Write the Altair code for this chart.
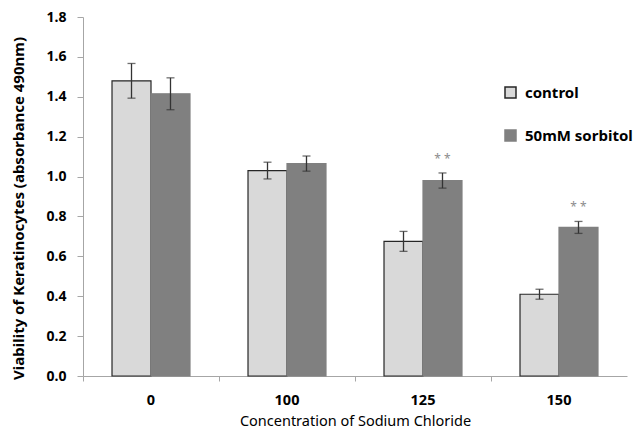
import altair as alt
import pandas as pd

concentrations = ["0", "100", "125", "150"]
series_names = ["control", "50mM sorbitol"]
control_means = [1.48, 1.03, 0.675, 0.41]
control_errs = [0.087, 0.042, 0.05, 0.025]
sorbitol_means = [1.415, 1.065, 0.98, 0.745]
sorbitol_errs = [0.08, 0.038, 0.038, 0.03]
sorbitol_marks = ["", "", "* *", "* *"]
y_ticks = [0, 0.2, 0.4, 0.6, 0.8, 1.0, 1.2, 1.4, 1.6, 1.8]

rows = []
for i, c in enumerate(concentrations):
    rows.append({"conc": c, "series": series_names[0], "mean": control_means[i],
                 "low": control_means[i] - control_errs[i],
                 "high": control_means[i] + control_errs[i], "star": ""})
    rows.append({"conc": c, "series": series_names[1], "mean": sorbitol_means[i],
                 "low": sorbitol_means[i] - sorbitol_errs[i],
                 "high": sorbitol_means[i] + sorbitol_errs[i], "star": sorbitol_marks[i]})
df = pd.DataFrame(rows)

FONT = "Noto Sans"
W, H = 544, 359

x_enc = alt.X("conc:N", sort=concentrations,
              scale=alt.Scale(paddingInner=0, paddingOuter=0),
              axis=alt.Axis(title="Concentration of Sodium Chloride", labelAngle=0,
                            bandPosition=0, tickSize=5,
                            domainColor="#a6a6a6", tickColor="#a6a6a6",
                            labelFont=FONT, labelFontSize=14.5, labelFontWeight="bold",
                            labelColor="#000000", labelPadding=12,
                            titleFont=FONT, titleFontSize=14.5, titleFontWeight="normal",
                            titleColor="#000000", titlePadding=8))
xo_enc = alt.XOffset("series:N", sort=series_names,
                     scale=alt.Scale(paddingInner=0, paddingOuter=0.744))
y_scale = alt.Scale(domain=[0, 1.8], nice=False)

legend_kw = dict(title=None, orient="none", legendX=420, legendY=68,
                 symbolType="square", symbolSize=121,
                 symbolStrokeWidth=1.5, rowPadding=26, padding=0,
                 labelFont=FONT, labelFontSize=15,
                 labelFontWeight="bold", labelColor="#000000",
                 labelOffset=7)

base = alt.Chart(df).encode(x=x_enc, xOffset=xo_enc)

bars = base.mark_bar(strokeWidth=1.2).encode(
    y=alt.Y("mean:Q", scale=y_scale,
            axis=alt.Axis(title="Viability of Keratinocytes (absorbance 490nm)",
                          values=y_ticks, tickCount=len(y_ticks),
                          format=".1f", grid=False, tickSize=6, labelOverlap=False,
                          domainColor="#a6a6a6", tickColor="#a6a6a6",
                          labelFont=FONT, labelFontSize=14, labelFontWeight="bold",
                          labelColor="#000000", labelPadding=11,
                          titleFont=FONT, titleFontSize=15, titleFontWeight="bold",
                          titleColor="#000000", titlePadding=20, titleY=191)),
    fill=alt.Fill("series:N", sort=series_names,
                  scale=alt.Scale(domain=series_names, range=["#d9d9d9", "#808080"]),
                  legend=alt.Legend(**legend_kw)),
    stroke=alt.Stroke("series:N", sort=series_names,
                      scale=alt.Scale(domain=series_names, range=["#262626", "#808080"]),
                      legend=alt.Legend(**legend_kw)),
)

rules = base.mark_rule(color="#333333", strokeWidth=1.3).encode(
    y=alt.Y("low:Q", scale=y_scale), y2="high:Q")
caps_low = base.mark_tick(color="#333333", thickness=1.3, size=8, orient="horizontal").encode(
    y=alt.Y("low:Q", scale=y_scale))
caps_high = base.mark_tick(color="#333333", thickness=1.3, size=8, orient="horizontal").encode(
    y=alt.Y("high:Q", scale=y_scale))
stars = base.mark_text(dy=-14, color="#8c8c8c", fontSize=12, font=FONT).encode(
    y=alt.Y("high:Q", scale=y_scale), text="star:N")

chart = alt.layer(bars, rules, caps_low, caps_high, stars).properties(
    width=W, height=H,
    autosize=alt.AutoSizeParams(type="none"),
    padding={"left": 75, "top": 9, "right": 6, "bottom": 53},
).configure_view(stroke=None)

chart.save("out.html", embed_options={"renderer": "svg", "actions": False})
